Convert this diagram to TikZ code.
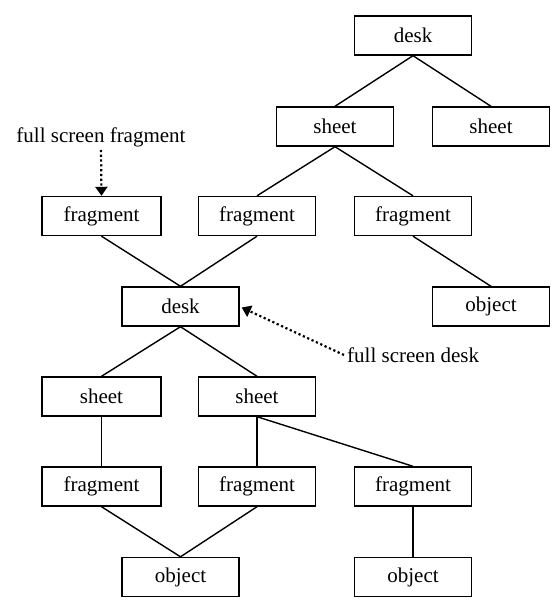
\documentclass[tikz,border=0pt]{standalone}
\usepackage{fontspec}
\setmainfont{Liberation Serif}
\usetikzlibrary{arrows.meta}
\begin{document}
\begin{tikzpicture}[x=1pt,y=-1pt,
  box/.style={draw, line width=1.4pt, minimum width=117pt, minimum height=39pt, inner sep=0pt, font=\fontsize{21}{24}\selectfont},
  link/.style={line width=1.4pt},
  lab/.style={inner sep=3pt, font=\fontsize{21}{24}\selectfont},
  pointer/.style={line width=2.2pt, dash pattern=on 2.2pt off 2.6pt, -{Triangle[width=12pt,length=9pt]}}]
\useasboundingbox (0,0) rectangle (555,607);
\node[box] (d1) at (413,35.5) {desk};
\node[box] (s1) at (335,126.5) {sheet};
\node[box] (s2) at (491,126.5) {sheet};
\node[box, minimum width=119pt] (f1) at (101.5,216) {fragment};
\node[box] (f2) at (257,216) {fragment};
\node[box] (f3) at (413,216) {fragment};
\node[box] (o1) at (491,306.5) {object};
\node[box] (d2) at (180.5,306.5) {desk};
\node[box, minimum width=119pt] (s3) at (101.5,396.5) {sheet};
\node[box] (s4) at (257,396.5) {sheet};
\node[box, minimum width=119pt] (f4) at (101.5,486.5) {fragment};
\node[box] (f5) at (257,486.5) {fragment};
\node[box] (f6) at (413,486.5) {fragment};
\node[box] (o2) at (180.5,577) {object};
\node[box] (o3) at (413,577) {object};
\node[lab] (l1) at (101,137) {full screen fragment};
\node[lab, anchor=west] (l2) at (344,355) {full screen desk};
\draw[link] (d1.south) -- (s1.north);
\draw[link] (d1.south) -- (s2.north);
\draw[link] (s1.south) -- (f2.north);
\draw[link] (s1.south) -- (f3.north);
\draw[link] (f3.south) -- (o1.north);
\draw[link] (f1.south) -- (d2.north);
\draw[link] (f2.south) -- (d2.north);
\draw[link] (d2.south) -- (s3.north);
\draw[link] (d2.south) -- (s4.north);
\draw[link] (s3.south) -- (f4.north);
\draw[link] (s4.south) -- (f5.north);
\draw[link] (s4.south) -- (f6.north);
\draw[link] (f4.south) -- (o2.north);
\draw[link] (f5.south) -- (o2.north);
\draw[link] (f6.south) -- (o3.north);
\draw[pointer] (l1.south) -- (f1.north);
\draw[pointer] (l2.west) -- ([shift={(2pt,-1pt)}]d2.east);
\end{tikzpicture}
\end{document}
